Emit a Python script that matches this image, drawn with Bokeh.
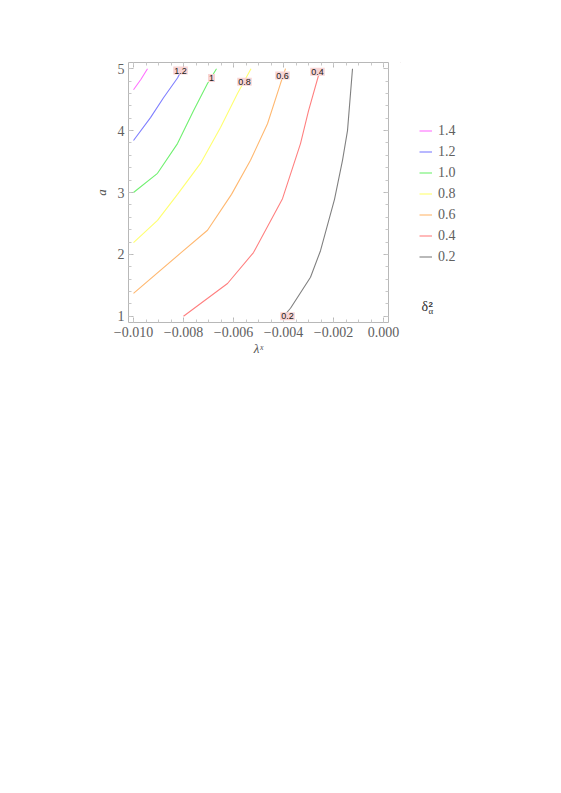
from bokeh.plotting import figure
from bokeh.layouts import row
from bokeh.models import (Range1d, FixedTicker, CustomJSTickFormatter, LinearAxis,
                          Legend, LegendItem, Label)
from bokeh.embed import file_html
from bokeh.resources import INLINE

# contour levels (delta_alpha^2) and their traced curves (lambda^x, a)
levels = ["1.4", "1.2", "1.0", "0.8", "0.6", "0.4", "0.2"]
colors = ["#ff70ff", "#7f7fff", "#70f070", "#ffff70", "#ffb870", "#ff8080", "#808080"]

c14_x = [-0.0100, -0.0097, -0.00944]
c14_y = [4.66, 4.83, 5.0]
c12_x = [-0.0100, -0.00932, -0.0088, -0.00824, -0.00805]
c12_y = [3.84, 4.21, 4.53, 4.85, 5.0]
c10_x = [-0.0100, -0.00904, -0.00824, -0.0076, -0.00704, -0.00668]
c10_y = [3.0, 3.31, 3.79, 4.32, 4.76, 5.0]
c08_x = [-0.0100, -0.00904, -0.00824, -0.00732, -0.00652, -0.00584, -0.0053]
c08_y = [2.19, 2.55, 2.97, 3.47, 4.05, 4.6, 5.0]
c06_x = [-0.0100, -0.00812, -0.00704, -0.00608, -0.00532, -0.00464, -0.00412, -0.00392]
c06_y = [1.37, 2.02, 2.39, 2.97, 3.52, 4.11, 4.76, 5.0]
c04_x = [-0.0080, -0.00624, -0.0052, -0.00404, -0.00332, -0.0030, -0.0026]
c04_y = [1.0, 1.53, 2.03, 2.9, 3.79, 4.32, 4.89]
c02_x = [-0.0040, -0.00372, -0.00292, -0.00252, -0.00196, -0.00164, -0.00144, -0.00124]
c02_y = [1.0, 1.13, 1.63, 2.06, 2.89, 3.52, 4.0, 5.0]
curves_x = [c14_x, c12_x, c10_x, c08_x, c06_x, c04_x, c02_x]
curves_y = [c14_y, c12_y, c10_y, c08_y, c06_y, c04_y, c02_y]

# inline contour labels
lab_text = ["1.2", "1", "0.8", "0.6", "0.4", "0.2"]
lab_x = [-0.00812, -0.00688, -0.00556, -0.00404, -0.00264, -0.00384]
lab_y = [4.97, 4.85, 4.79, 4.89, 4.95, 1.0]

x_major = [-0.010, -0.008, -0.006, -0.004, -0.002, 0.000]
y_major = [1, 2, 3, 4, 5]

x_minor = [round(-0.0105 + 0.0005 * i, 5) for i in range(23)]
y_minor = [round(0.8 + 0.2 * i, 2) for i in range(23)]

W1, W2, H = 400, 100, 370
p = figure(width=W1, height=H, output_backend="svg", toolbar_location=None,
           x_range=Range1d(-0.0102, 0.0002), y_range=Range1d(0.9, 5.1),
           min_border_left=128, min_border_right=W1 - 128 - 260,
           min_border_top=62, min_border_bottom=H - 62 - 260,
           x_axis_label="λˣ", y_axis_label="a")
p.outline_line_color = None
p.grid.visible = False

fmt_x = CustomJSTickFormatter(code="""
const s = Math.abs(tick).toFixed(3);
return (tick < -1e-12 ? "\u2212" : "") + s;
""")

def style_axis(ax, labels=True):
    ax.axis_line_color = "#b8b8b8"
    ax.major_tick_line_color = "#b8b8b8"
    ax.minor_tick_line_color = "#c8c8c8"
    ax.major_tick_in = 5
    ax.major_tick_out = 0
    ax.minor_tick_in = 3
    ax.minor_tick_out = 0
    ax.major_label_text_font = "Liberation Serif"
    ax.major_label_text_font_size = "14px"
    ax.major_label_text_color = "#606060"
    ax.major_label_standoff = 4
    if not labels:
        ax.major_label_text_font_size = "0px"
        ax.major_label_text_color = None
        ax.major_label_standoff = 0

xa = p.xaxis[0]
xa.ticker = FixedTicker(ticks=x_major, minor_ticks=x_minor)
xa.formatter = fmt_x
style_axis(xa)
xa.axis_label_text_font = "Liberation Serif"
xa.axis_label_text_font_style = "italic"
xa.axis_label_text_font_size = "13px"
xa.axis_label_text_color = "#505050"
xa.axis_label_standoff = 1

ya = p.yaxis[0]
ya.ticker = FixedTicker(ticks=y_major, minor_ticks=y_minor)
style_axis(ya)
ya.axis_label_text_font = "Liberation Serif"
ya.axis_label_text_font_style = "italic"
ya.axis_label_text_font_size = "13px"
ya.axis_label_text_color = "#505050"
ya.axis_label_standoff = 6

top = LinearAxis(ticker=FixedTicker(ticks=x_major, minor_ticks=x_minor))
style_axis(top, labels=False)
p.add_layout(top, "above")
right = LinearAxis(ticker=FixedTicker(ticks=y_major, minor_ticks=y_minor))
style_axis(right, labels=False)
p.add_layout(right, "right")

for lvl, col, cx, cy in zip(levels, colors, curves_x, curves_y):
    p.line(cx, cy, line_color=col, line_width=1.1)

for t, lx, ly in zip(lab_text, lab_x, lab_y):
    p.add_layout(Label(x=lx, y=ly, text=t, text_font="Liberation Sans",
                       text_font_size="9px", text_color="#202020",
                       text_align="center", text_baseline="middle",
                       background_fill_color="#f8d4d4", background_fill_alpha=1.0,
                       padding=1))

# legend panel (its own frame, curves lie outside its range so only the legend shows)
q = figure(width=W2, height=H, output_backend="svg", toolbar_location=None,
           x_range=Range1d(0, 1), y_range=Range1d(0, 1),
           x_axis_location=None, y_axis_location=None,
           min_border_left=0, min_border_right=0, min_border_top=0, min_border_bottom=0)
q.grid.visible = False
q.outline_line_color = None

items = []
r0 = q.line([], [], line_color="#f2f2f2", line_width=1)
items.append(LegendItem(label=" ", renderers=[r0]))
for lvl, col, cx, cy in zip(levels, colors, curves_x, curves_y):
    r = q.line(cx, cy, line_color=col, line_width=1.1)
    items.append(LegendItem(label=lvl, renderers=[r]))
r9 = q.line([], [], line_color="#f2f2f2", line_width=1)
items.append(LegendItem(label=" ", renderers=[r9]))

leg = Legend(items=items, location=(19, 34), orientation="vertical",
             glyph_width=13, glyph_height=21, label_height=21, label_standoff=6,
             spacing=0, padding=0, margin=0,
             label_text_font="Liberation Serif", label_text_font_size="14px",
             label_text_color="#606060",
             border_line_color=None, background_fill_alpha=0)
q.add_layout(leg, "center")

q.add_layout(Label(x=21, y=9, x_units="screen", y_units="screen", text="δ",
                   text_font="Liberation Serif", text_font_size="14px",
                   text_color="#303030"))
q.add_layout(Label(x=28, y=16, x_units="screen", y_units="screen", text="2",
                   text_font="Liberation Sans", text_font_size="8px",
                   text_font_style="bold", text_color="#303030"))
q.add_layout(Label(x=28, y=7, x_units="screen", y_units="screen", text="α",
                   text_font="Liberation Serif", text_font_size="9px",
                   text_color="#303030"))

layout = row(p, q)
open("out.html", "w").write(file_html(layout, INLINE))
